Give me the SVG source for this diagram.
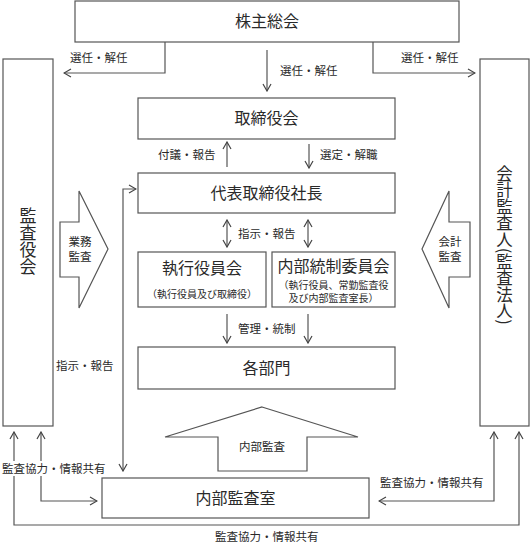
<svg xmlns="http://www.w3.org/2000/svg" width="532" height="545" viewBox="0 0 532 545">
<style>
text{font-family:"Noto Sans CJK JP","Noto Sans CJK SC",sans-serif;fill:#2a2a2a}
.box{fill:#fff;stroke:#555;stroke-width:1.2}
.big{font-size:16px;text-anchor:middle}
.sub{font-size:10px;text-anchor:middle}
.lbl{font-size:11.5px}
.blk{fill:#fff;stroke:#555;stroke-width:1.2}
.ln{fill:none;stroke:#555;stroke-width:1.2}
.ah{fill:none;stroke:#444;stroke-width:1.2}
</style>
<defs>
<marker id="a" viewBox="0 0 10 10" refX="9" refY="5" markerWidth="10" markerHeight="10" markerUnits="userSpaceOnUse" orient="auto-start-reverse">
<path d="M2,1 L9,5 L2,9" class="ah"/>
</marker>
</defs>
<rect width="532" height="545" fill="#fff"/>

<g id="connectors">
<path class="ln" d="M165,42 V73 H64" marker-end="url(#a)"/>
<path class="ln" d="M373,42 V73 H475" marker-end="url(#a)"/>
<path class="ln" d="M267,50 V91" marker-end="url(#a)"/>
<path class="ln" d="M227,167 V142" marker-end="url(#a)"/>
<path class="ln" d="M309,144 V168" marker-end="url(#a)"/>
<path class="ln" d="M227,220 V247" marker-start="url(#a)" marker-end="url(#a)"/>
<path class="ln" d="M308,220 V247" marker-start="url(#a)" marker-end="url(#a)"/>
<path class="ln" d="M227,314 V343" marker-end="url(#a)"/>
<path class="ln" d="M308,314 V343" marker-end="url(#a)"/>
<path class="ln" d="M136,189 H123 V471" marker-start="url(#a)" marker-end="url(#a)"/>
<path class="ln" d="M97,501 H41 V432" marker-start="url(#a)" marker-end="url(#a)"/>
<path class="ln" d="M14,432 V525 H519 V432" marker-start="url(#a)" marker-end="url(#a)"/>
<path class="ln" d="M494,432 V501 H379" marker-start="url(#a)" marker-end="url(#a)"/>
</g>

<g id="labels">
<text class="lbl" x="70" y="62">選任・解任</text>
<text class="lbl" x="280" y="75">選任・解任</text>
<text class="lbl" x="401" y="62">選任・解任</text>
<text class="lbl" x="158" y="159">付議・報告</text>
<text class="lbl" x="320" y="159">選定・解職</text>
<text class="lbl" x="238" y="238">指示・報告</text>
<text class="lbl" x="238" y="333">管理・統制</text>
<text class="lbl" x="56" y="370">指示・報告</text>
<rect x="1" y="461" width="108" height="15" fill="#fff"/>
<text class="lbl" x="2" y="472.5">監査協力・情報共有</text>
<text class="lbl" x="380" y="487">監査協力・情報共有</text>
<text class="lbl" x="215" y="541">監査協力・情報共有</text>
</g>

<g id="shareholders">
<rect class="box" x="75" y="1" width="384" height="41"/>
<text class="big" x="267" y="27">株主総会</text>
</g>
<g id="board">
<rect class="box" x="138" y="98" width="257" height="41"/>
<text class="big" x="266.5" y="124">取締役会</text>
</g>
<g id="president">
<rect class="box" x="138" y="173" width="257" height="40"/>
<text class="big" x="266.5" y="199">代表取締役社長</text>
</g>
<g id="exec">
<rect class="box" x="138" y="252" width="128" height="55"/>
<text class="big" x="202" y="274">執行役員会</text>
<text class="sub" x="202" y="298">（執行役員及び取締役）</text>
</g>
<g id="icc">
<rect class="box" x="272" y="252" width="123" height="55"/>
<text class="big" x="333.5" y="272">内部統制委員会</text>
<text class="sub" x="333.5" y="288.5">（執行役員、常勤監査役</text>
<text class="sub" x="333.5" y="302">及び内部監査室長）</text>
</g>
<g id="depts">
<rect class="box" x="138" y="347" width="257" height="42"/>
<text class="big" x="266.5" y="374">各部門</text>
</g>
<g id="kansayaku">
<rect class="box" x="3" y="59" width="50" height="367"/>
<text x="28" y="241" font-size="17" writing-mode="vertical-rl" text-anchor="middle">監査役会</text>
</g>
<g id="auditor">
<rect class="box" x="480" y="59" width="49" height="367"/>
<text x="504.5" y="245" font-size="16.5" writing-mode="vertical-rl" text-anchor="middle">会計監査人(監査法人)</text>
</g>
<g id="internal-audit-office">
<rect class="box" x="102" y="478" width="267" height="40"/>
<text class="big" x="235.5" y="504">内部監査室</text>
</g>
<g id="arrow-gyomu">
<polygon class="blk" points="60,222 79,222 79,191 108,249 79,308 79,277 60,277"/>
<text class="lbl" x="80" y="246" text-anchor="middle">業務</text>
<text class="lbl" x="80" y="261" text-anchor="middle">監査</text>
</g>
<g id="arrow-kaikei">
<polygon class="blk" points="470,222 449,222 449,191 422,249 449,308 449,277 470,277"/>
<text class="lbl" x="450" y="246" text-anchor="middle">会計</text>
<text class="lbl" x="450" y="261" text-anchor="middle">監査</text>
</g>
<g id="arrow-naibu">
<polygon class="blk" points="262,407 358,437 307,437 307,471 218,471 218,437 165,437"/>
<text class="lbl" x="262" y="451" text-anchor="middle">内部監査</text>
</g>
</svg>
